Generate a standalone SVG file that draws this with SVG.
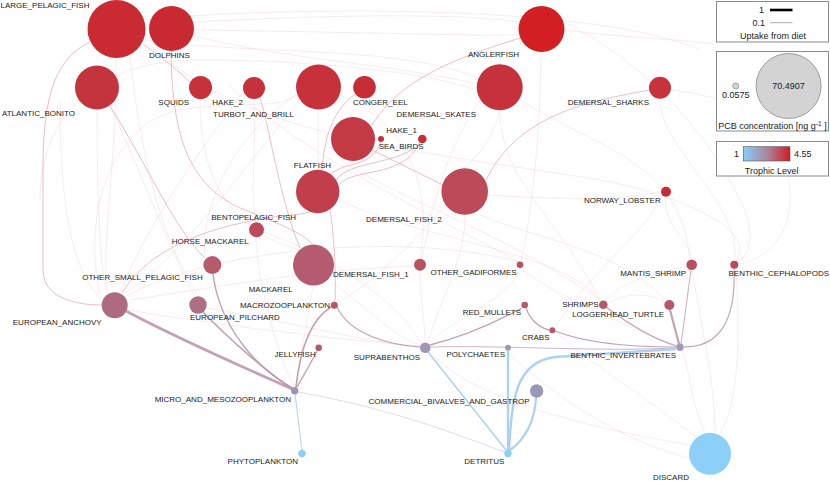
<svg xmlns="http://www.w3.org/2000/svg" width="830" height="481" viewBox="0 0 830 481">
<style>
.lbl{font-family:"Liberation Sans",Arial,sans-serif;font-size:8px;fill:#1a1a1a}
.e{text-anchor:end}
.lg{font-family:"Liberation Sans",Arial,sans-serif;font-size:9px;fill:#1a1a1a}
#connectors path{fill:none}
.f{stroke:#efc6cc;stroke-width:0.7;stroke-opacity:0.5}
.p{stroke:#e6a2aa;stroke-width:1;stroke-opacity:0.7}
.m{stroke:#b990a4;stroke-opacity:0.85}
.b{stroke:#a9cff0;stroke-opacity:0.95}
.box{fill:#fff;stroke:#8a8a8a;stroke-width:1}
</style>
<defs>
<linearGradient id="tl" x1="0" y1="0" x2="1" y2="0">
<stop offset="0" stop-color="#87cefa"/>
<stop offset="0.5" stop-color="#a8879e"/>
<stop offset="1" stop-color="#d21c24"/>
</linearGradient>
</defs>
<rect width="830" height="481" fill="#fff"/>
<g id="connectors">
<path class="f" d="M116,58 C118,150 100,250 108,293"/>
<path class="f" d="M130,56 C140,150 160,240 200,298"/>
<path class="f" d="M146,25 C300,15 450,12 520,22"/>
<path class="f" d="M145,40 C250,55 400,45 478,78"/>
<path class="f" d="M194,30 C350,32 480,36 519,35"/>
<path class="f" d="M194,36 C300,62 380,62 478,84"/>
<path class="f" d="M564,30 C650,40 700,40 716,45"/>
<path class="f" d="M671,90 C760,100 790,140 790,200 C790,240 760,262 738,264"/>
<path class="f" d="M660,99 C660,150 740,200 735,260"/>
<path class="f" d="M500,110 C500,180 560,220 600,300"/>
<path class="f" d="M520,100 C600,150 680,160 690,259"/>
<path class="f" d="M97,110 C97,200 100,260 106,292"/>
<path class="f" d="M110,106 C140,170 170,250 195,297"/>
<path class="f" d="M200,99 C200,180 230,230 300,250"/>
<path class="f" d="M254,99 C256,150 250,200 256,222"/>
<path class="f" d="M243,92 C200,150 150,220 120,292"/>
<path class="f" d="M296,95 C240,130 200,200 205,257"/>
<path class="f" d="M300,100 C250,160 180,260 125,293"/>
<path class="f" d="M318,110 C318,140 318,160 318,170"/>
<path class="f" d="M340,95 C420,130 430,200 420,259"/>
<path class="f" d="M500,110 C490,150 470,160 465,168"/>
<path class="f" d="M480,100 C440,160 430,220 422,259"/>
<path class="f" d="M541,52 C540,150 530,220 521,261"/>
<path class="f" d="M465,215 C465,260 440,300 428,342"/>
<path class="f" d="M445,205 C400,260 360,290 337,303"/>
<path class="f" d="M488,195 C560,200 620,200 661,192"/>
<path class="f" d="M665,197 C665,230 690,240 691,259"/>
<path class="f" d="M662,196 C640,240 600,260 555,327"/>
<path class="f" d="M420,270 C420,300 425,320 425,342"/>
<path class="f" d="M520,268 C510,300 450,320 429,343"/>
<path class="f" d="M520,268 C560,300 640,330 677,346"/>
<path class="f" d="M335,284 C380,320 400,340 421,345"/>
<path class="f" d="M313,286 C305,330 300,360 296,387"/>
<path class="f" d="M256,237 C258,290 280,360 294,387"/>
<path class="f" d="M263,232 C320,250 400,300 421,344"/>
<path class="f" d="M128,310 C250,330 350,340 420,346"/>
<path class="f" d="M206,308 C280,320 380,345 420,347"/>
<path class="f" d="M689,458 C620,440 560,400 510,355"/>
<path class="f" d="M696,437 C650,400 600,370 556,333"/>
<path class="f" d="M705,433 C690,400 690,370 682,351"/>
<path class="f" d="M720,434 C740,400 740,330 736,269"/>
<path class="f" d="M690,445 C600,430 470,400 430,352"/>
<path class="f" d="M715,433 C715,380 700,320 692,270"/>
<path class="f" d="M606,300 C620,280 670,270 687,266"/>
<path class="f" d="M609,303 C630,290 655,295 665,302"/>
<path class="f" d="M340,160 C400,200 500,230 600,300"/>
<path class="f" d="M100,295 C80,200 120,120 180,110 C240,100 280,110 296,95"/>
<path class="f" d="M228,85 C300,150 400,200 520,262"/>
<path class="f" d="M560,20 C640,60 700,120 740,200 C760,240 745,258 738,262"/>
<path class="f" d="M60,100 C60,200 70,270 102,300"/>
<path class="f" d="M340,200 C420,240 560,250 600,300"/>
<path class="f" d="M150,45 C250,140 420,150 600,180 C680,195 760,230 735,262"/>
<path class="f" d="M120,300 C200,250 400,230 520,262"/>
<path class="f" d="M140,20 C300,5 600,5 700,50"/>
<path class="f" d="M40,200 C40,120 90,60 200,60 C300,60 420,70 476,90"/>
<path class="f" d="M480,215 C540,240 620,250 665,300"/>
<path class="f" d="M130,300 C200,290 300,270 415,266"/>
<path class="p" d="M90,42 C50,60 43,110 43,170 L43,270 C43,300 80,305 102,305"/>
<path class="p" d="M143,44 C165,60 180,72 190,82"/>
<path class="p" stroke-width="1.3" d="M171,51 C172,140 190,190 250,212 C290,228 306,236 312,244"/>
<path class="p" d="M520,38 C450,60 400,80 372,125"/>
<path class="p" d="M372,150 L443,185"/>
<path class="p" d="M420,143 C400,165 350,160 336,180"/>
<path class="p" stroke-width="1.3" d="M419,144 C405,175 360,170 345,180 C330,190 330,210 300,214 C260,218 160,230 122,293"/>
<path class="p" d="M355,94 C335,110 325,130 322,170"/>
<path class="p" d="M381,142 C370,170 345,160 330,175"/>
<path class="p" d="M330,210 C335,240 336,280 335,301"/>
<path class="p" stroke-opacity="0.5" d="M649,90 C600,100 520,110 486,180"/>
<path class="p" stroke-opacity="0.55" d="M110,106 C150,170 175,230 205,258"/>
<path class="p" stroke-opacity="0.5" d="M300,248 C280,200 270,130 260,98"/>
<path class="m" stroke-width="2.6" d="M126,311 C180,340 250,370 292,389"/>
<path class="m" stroke-width="1.6" d="M203,312 C230,340 270,375 292,388"/>
<path class="m" stroke-width="1.4" d="M213,274 C220,330 260,370 292,388"/>
<path class="m" stroke-width="1.6" d="M331,307 C310,320 300,350 296,387"/>
<path class="m" stroke-width="1.3" d="M317,351 C310,365 302,378 297,387"/>
<path class="m" stroke-width="1.1" stroke-opacity="0.6" d="M337,307 C350,335 390,345 420,347"/>
<path class="m" stroke-width="1.3" d="M430,345 C470,335 500,320 522,308"/>
<path class="m" stroke-width="1.3" d="M526,308 C530,320 540,328 549,330"/>
<path class="m" stroke-width="1.2" d="M555,331 C590,345 640,347 676,347"/>
<path class="m" stroke-width="1.2" stroke-opacity="0.7" d="M606,307 C630,325 655,340 677,346"/>
<path class="m" stroke-width="2.2" d="M670,310 L679,344"/>
<path class="m" stroke-width="0.9" stroke-opacity="0.7" d="M691,270 L681,344"/>
<path class="m" stroke-width="1.1" stroke-opacity="0.6" d="M734,269 C736,320 720,347 684,347"/>
<path class="m" stroke-width="0.8" stroke-opacity="0.5" d="M676,348 C600,352 500,345 431,347"/>
<path class="b" stroke-width="2.4" d="M509,450 C512,400 515,362 555,357 L676,349"/>
<path class="b" stroke-width="2.2" d="M510,450 C525,440 535,420 536,398"/>
<path class="b" stroke-width="2.4" d="M508,450 L508,351"/>
<path class="b" stroke-width="1.5" d="M506,450 L428,352"/>
<path class="b" stroke-width="1" d="M302,450 L295,394"/>
<path stroke="#c8c8d4" stroke-width="0.6" d="M298,392 C400,410 470,440 505,452"/>
</g>
<g id="n-LARGE_PELAGIC_FISH"><circle cx="116.5" cy="29" r="29" fill="#ca2a31"/><text class="lbl" x="0.5" y="7.5">LARGE_PELAGIC_FISH</text></g>
<g id="n-DOLPHINS"><circle cx="171.5" cy="28.5" r="22.5" fill="#c92a31"/><text class="lbl" x="149" y="58">DOLPHINS</text></g>
<g id="n-ANGLERFISH"><circle cx="541.5" cy="29" r="23" fill="#d11f24"/><text class="lbl e" x="519" y="57">ANGLERFISH</text></g>
<g id="n-ATLANTIC_BONITO"><circle cx="97" cy="87.5" r="22" fill="#c3343d"/><text class="lbl e" x="75" y="116">ATLANTIC_BONITO</text></g>
<g id="n-SQUIDS"><circle cx="200.5" cy="87.5" r="11.5" fill="#c6313a"/><text class="lbl e" x="189" y="105">SQUIDS</text></g>
<g id="n-HAKE_2"><circle cx="254" cy="88" r="11" fill="#c6323b"/><text class="lbl e" x="243" y="105">HAKE_2</text></g>
<g id="n-TURBOT_AND_BRILL"><circle cx="318.5" cy="87" r="22.5" fill="#c7313a"/><text class="lbl e" x="294" y="117">TURBOT_AND_BRILL</text></g>
<g id="n-CONGER_EEL"><circle cx="364.5" cy="87.3" r="11.3" fill="#c62d35"/><text class="lbl" x="353" y="105">CONGER_EEL</text></g>
<g id="n-DEMERSAL_SKATES"><circle cx="499.7" cy="87.3" r="23" fill="#c6323b"/><text class="lbl e" x="476" y="117">DEMERSAL_SKATES</text></g>
<g id="n-DEMERSAL_SHARKS"><circle cx="660" cy="87.7" r="11" fill="#c8323b"/><text class="lbl e" x="649" y="105">DEMERSAL_SHARKS</text></g>
<g id="n-FLATFISH"><circle cx="353" cy="139" r="22" fill="#c33a45"/><text class="lbl e" x="331" y="167.5">FLATFISH</text></g>
<g id="n-SEA_BIRDS"><circle cx="381" cy="139" r="3" fill="#c8303a"/><text class="lbl" x="378.7" y="149">SEA_BIRDS</text></g>
<g id="n-HAKE_1"><circle cx="422.3" cy="139" r="4.3" fill="#c82c34"/><text class="lbl e" x="417" y="133">HAKE_1</text></g>
<g id="n-BENTOPELAGIC_FISH"><circle cx="317.7" cy="191.5" r="21.7" fill="#c13e4b"/><text class="lbl e" x="296" y="219.5">BENTOPELAGIC_FISH</text></g>
<g id="n-DEMERSAL_FISH_2"><circle cx="464.7" cy="191.5" r="23.3" fill="#bd4a58"/><text class="lbl e" x="441.7" y="221.5">DEMERSAL_FISH_2</text></g>
<g id="n-NORWAY_LOBSTER"><circle cx="666" cy="191.7" r="5" fill="#c72c34"/><text class="lbl e" x="660.7" y="203">NORWAY_LOBSTER</text></g>
<g id="n-HORSE_MACKAREL"><circle cx="256.5" cy="229.7" r="7.5" fill="#bc4a5a"/><text class="lbl e" x="248.7" y="244">HORSE_MACKAREL</text></g>
<g id="n-OTHER_SMALL_PELAGIC_FISH"><circle cx="212.3" cy="265" r="9" fill="#b65a6c"/><text class="lbl e" x="202.7" y="280">OTHER_SMALL_PELAGIC_FISH</text></g>
<g id="n-MACKAREL"><circle cx="313.5" cy="265" r="20.5" fill="#b55b6f"/><text class="lbl e" x="292.7" y="292">MACKAREL</text></g>
<g id="n-DEMERSAL_FISH_1"><circle cx="420" cy="264.8" r="6" fill="#b9505f"/><text class="lbl e" x="408.7" y="277">DEMERSAL_FISH_1</text></g>
<g id="n-OTHER_GADIFORMES"><circle cx="520" cy="264.7" r="3.3" fill="#bb4f60"/><text class="lbl e" x="516.7" y="275">OTHER_GADIFORMES</text></g>
<g id="n-MANTIS_SHRIMP"><circle cx="691.7" cy="264.7" r="5.3" fill="#b9505f"/><text class="lbl e" x="686" y="276">MANTIS_SHRIMP</text></g>
<g id="n-BENTHIC_CEPHALOPODS"><circle cx="734.3" cy="264.7" r="4" fill="#bd4858"/><text class="lbl e" x="829" y="276">BENTHIC_CEPHALOPODS</text></g>
<g id="n-EUROPEAN_ANCHOVY"><circle cx="114.7" cy="305.3" r="13" fill="#ae6a80"/><text class="lbl e" x="101.7" y="324.5">EUROPEAN_ANCHOVY</text></g>
<g id="n-EUROPEAN_PILCHARD"><circle cx="198" cy="305" r="8.7" fill="#ae6e84"/><text class="lbl" x="190" y="320">EUROPEAN_PILCHARD</text></g>
<g id="n-MACROZOOPLANKTON"><circle cx="334.3" cy="305.3" r="3.5" fill="#b75468"/><text class="lbl e" x="330" y="308">MACROZOOPLANKTON</text></g>
<g id="n-RED_MULLETS"><circle cx="524.7" cy="305" r="3.3" fill="#b65669"/><text class="lbl e" x="521" y="315">RED_MULLETS</text></g>
<g id="n-SHRIMPS"><circle cx="603.3" cy="304.7" r="4.3" fill="#b45a6c"/><text class="lbl e" x="598.7" y="307">SHRIMPS</text></g>
<g id="n-LOGGERHEAD_TURTLE"><circle cx="669.3" cy="305" r="5" fill="#b6566a"/><text class="lbl e" x="664" y="316.5">LOGGERHEAD_TURTLE</text></g>
<g id="n-CRABS"><circle cx="552.3" cy="330.3" r="3" fill="#b5586a"/><text class="lbl e" x="549.5" y="339.5">CRABS</text></g>
<g id="n-JELLYFISH"><circle cx="318.7" cy="347.7" r="3.3" fill="#b05a6e"/><text class="lbl e" x="315.7" y="357">JELLYFISH</text></g>
<g id="n-SUPRABENTHOS"><circle cx="425.3" cy="347.7" r="5.3" fill="#9e97b8"/><text class="lbl e" x="420" y="359.5">SUPRABENTHOS</text></g>
<g id="n-POLYCHAETES"><circle cx="508" cy="347.7" r="3" fill="#9b99ba"/><text class="lbl e" x="505" y="357">POLYCHAETES</text></g>
<g id="n-BENTHIC_INVERTEBRATES"><circle cx="680" cy="347.3" r="3.7" fill="#9c9abe"/><text class="lbl e" x="676" y="358">BENTHIC_INVERTEBRATES</text></g>
<g id="n-MICRO_AND_MESOZOOPLANKTON"><circle cx="294.7" cy="390.7" r="3.7" fill="#9c96b6"/><text class="lbl e" x="291" y="401.5">MICRO_AND_MESOZOOPLANKTON</text></g>
<g id="n-COMMERCIAL_BIVALVES_AND_GASTROP"><circle cx="536.7" cy="391" r="6.7" fill="#9a98b8"/><text class="lbl e" x="529.7" y="404">COMMERCIAL_BIVALVES_AND_GASTROP</text></g>
<g id="n-PHYTOPLANKTON"><circle cx="302" cy="453.5" r="3.7" fill="#8ad0f8"/><text class="lbl e" x="298" y="464">PHYTOPLANKTON</text></g>
<g id="n-DETRITUS"><circle cx="508" cy="453.5" r="3.7" fill="#8ad0f8"/><text class="lbl e" x="504.3" y="464">DETRITUS</text></g>
<g id="n-DISCARD"><circle cx="710" cy="453.8" r="21" fill="#8ccff9"/><text class="lbl e" x="689" y="480">DISCARD</text></g>
<g id="legend-uptake">
<rect class="box" x="716.5" y="1.5" width="112" height="40.5"/>
<text class="lg e" x="764" y="13.3">1</text>
<line x1="770" y1="10" x2="792.5" y2="10" stroke="#000" stroke-width="2.6"/>
<text class="lg e" x="765" y="26">0.1</text>
<line x1="770" y1="22.7" x2="792.5" y2="22.7" stroke="#777" stroke-width="0.6"/>
<text class="lg" x="773" y="38.7" text-anchor="middle">Uptake from diet</text>
</g>
<g id="legend-pcb">
<rect class="box" x="716.5" y="51.5" width="112" height="79.5"/>
<circle cx="735.7" cy="86" r="3" fill="#d3d3d3" stroke="#8a8a8a" stroke-width="0.7"/>
<text class="lg" x="735.7" y="98" text-anchor="middle">0.0575</text>
<circle cx="788.6" cy="86" r="32.5" fill="#d3d3d3" stroke="#8a8a8a" stroke-width="0.8"/>
<text class="lg" x="788.5" y="88.5" text-anchor="middle">70.4907</text>
<text class="lg" x="772.5" y="128.5" text-anchor="middle">PCB concentration [ng g<tspan font-size="6.5" dy="-3">-1</tspan><tspan dy="3"> ]</tspan></text>
</g>
<g id="legend-trophic">
<rect class="box" x="716.5" y="141.5" width="112" height="34.5"/>
<rect x="743.3" y="146.7" width="46.7" height="14.3" fill="url(#tl)" stroke="#555" stroke-width="0.6"/>
<text class="lg e" x="739" y="157.3">1</text>
<text class="lg" x="794" y="157.3">4.55</text>
<text class="lg" x="771.7" y="174" text-anchor="middle">Trophic Level</text>
</g>
</svg>
